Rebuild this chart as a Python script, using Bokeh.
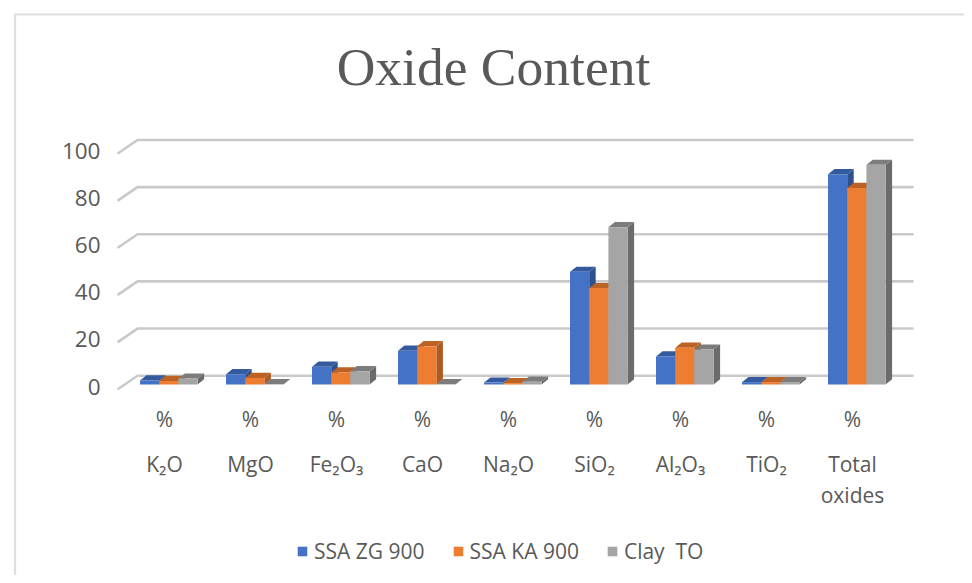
from bokeh.plotting import figure
from bokeh.models import (Range1d, LinearAxis, FixedTicker, Label, Legend, LegendItem)
from bokeh.embed import file_html
from bokeh.resources import INLINE

categories = ["K₂O", "MgO", "Fe₂O₃", "CaO", "Na₂O", "SiO₂", "Al₂O₃", "TiO₂", "Total\noxides"]
unit_labels = ["%"] * 9
series_names = ["SSA ZG 900", "SSA KA 900", "Clay  TO"]
ssa_zg = [1.7, 4.4, 7.5, 14.3, 0.8, 47.8, 11.9, 1.0, 89.2]
ssa_ka = [1.5, 2.8, 5.1, 16.2, 0.6, 40.9, 15.6, 1.0, 83.4]
clay_to = [2.5, 0.1, 5.6, 0.1, 1.2, 66.7, 14.8, 1.0, 93.2]
y_ticks = [0, 20, 40, 60, 80, 100]

front = ["#4472C4", "#ED7D31", "#A5A5A5"]
side = ["#2F528F", "#AE5A21", "#6B6B6B"]
top = ["#345A9E", "#BB6224", "#7C7C7C"]
TEXT = "#595959"

W, H = 964, 575
PX_X = 86.0      # pixels per category
PX_Y = 2.357     # pixels per value unit
X0_PX, Y0_PX = 164.0, 384.0   # position of category 0 label / value 0


def X(px):
    return (px - X0_PX) / PX_X


def Y(py):
    return (Y0_PX - py) / PX_Y


p = figure(width=W, height=H, output_backend="svg", toolbar_location=None,
           x_axis_location=None, y_axis_location=None,
           x_range=Range1d(X(0), X(W)), y_range=Range1d(Y(H), Y(0)),
           min_border=0, min_border_left=0, min_border_right=0,
           min_border_top=0, min_border_bottom=0, outline_line_color=None,
           border_fill_color="white", background_fill_color="white")
p.grid.visible = False
# the value labels sit 2px below the front plane of the bars
p.extra_y_ranges = {"labels": Range1d(Y(H - 2), Y(-2))}

# chart border (top and left only visible)
p.line([X(14.5), X(14.5), X(W)], [Y(H), Y(14), Y(14)],
       line_color="#DEDEDE", line_width=2.2)

# wall + floor gridlines
floor_dx, floor_dy = 19 / PX_X, 13 / PX_Y
back_dy = 8.8 / PX_Y
for v in y_ticks:
    xs = [X(118), X(137), X(912)]
    ys = [v + back_dy - floor_dy, v + back_dy, v + back_dy]
    p.line(xs, ys, line_color="#C9C9C9", line_width=2.6, line_join="round", line_cap="round")

bar_w = 19.2 / PX_X
dx, dy = 6.5 / PX_X, 5.2 / PX_Y
all_series = [ssa_zg, ssa_ka, clay_to]
legend_items = []
for s, vals in enumerate(all_series):
    lefts = [X(139.5) + i + s * bar_w for i in range(len(vals))]
    rights = [l + bar_w for l in lefts]
    p.patches([[r, r + dx, r + dx, r] for r in rights],
              [[0, dy, v + dy, v] for v in vals],
              fill_color=side[s], line_color=None)
    p.patches([[l, l + dx, r + dx, r] for l, r in zip(lefts, rights)],
              [[v, v + dy, v + dy, v] for v in vals],
              fill_color=top[s], line_color=None)
    bars = p.quad(left=lefts, right=rights, bottom=[0] * len(vals), top=vals,
                  fill_color=front[s], line_color=None)
    legend_items.append(LegendItem(label=series_names[s], renderers=[bars]))

FONT = "Open Sans"

yaxis = LinearAxis(fixed_location=X(114), y_range_name="labels", ticker=FixedTicker(ticks=y_ticks),
                   axis_line_color=None, major_tick_line_color=None, minor_tick_line_color=None,
                   major_label_text_color=TEXT, major_label_text_font=FONT,
                   major_label_text_font_size="22.5px", major_label_standoff=8)
p.add_layout(yaxis, "left")

pct_axis = LinearAxis(fixed_location=Y(398), ticker=FixedTicker(ticks=list(range(9))),
                      major_label_overrides={i: t for i, t in enumerate(unit_labels)},
                      axis_line_color=None, major_tick_line_color=None, minor_tick_line_color=None,
                      major_label_text_color=TEXT, major_label_text_font=FONT,
                      major_label_text_font_size="21px", major_label_standoff=0)
p.add_layout(pct_axis, "below")

cat_axis = LinearAxis(fixed_location=Y(443), ticker=FixedTicker(ticks=list(range(9))),
                      major_label_overrides={i: t for i, t in enumerate(categories)},
                      axis_line_color=None, major_tick_line_color=None, minor_tick_line_color=None,
                      major_label_text_color=TEXT, major_label_text_font=FONT,
                      major_label_text_font_size="21px", major_label_standoff=0,
                      major_label_text_line_height=1.12)
p.add_layout(cat_axis, "below")

p.add_layout(Label(x=493, y=H - 66, x_units="screen", y_units="screen",
                   text="Oxide Content", text_align="center", text_baseline="middle",
                   text_font="Liberation Serif", text_font_size="53.5px", text_color=TEXT))

legend = Legend(items=legend_items, orientation="horizontal", location=(296, 10),
                padding=0, margin=0, spacing=27, glyph_width=12, glyph_height=12,
                label_standoff=6, label_text_color=TEXT, label_text_font=FONT,
                label_text_font_size="21px", border_line_color=None, background_fill_alpha=0)
p.add_layout(legend, "center")

open("out.html", "w").write(file_html(p, INLINE))
